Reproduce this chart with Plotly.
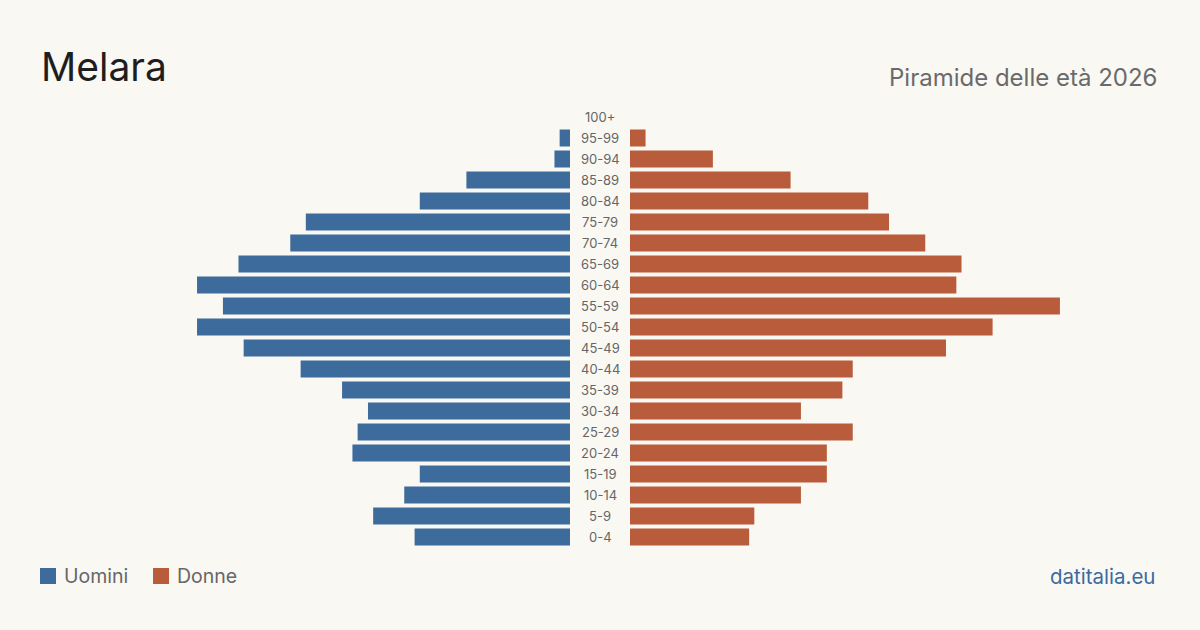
import plotly.graph_objects as go

age_groups = ["0-4", "5-9", "10-14", "15-19", "20-24", "25-29", "30-34", "35-39",
              "40-44", "45-49", "50-54", "55-59", "60-64", "65-69", "70-74",
              "75-79", "80-84", "85-89", "90-94", "95-99", "100+"]
uomini = [30, 38, 32, 29, 42, 41, 39, 44, 52, 63, 72, 67, 72, 64, 54, 51, 29, 20, 3, 2, 0]
donne = [23, 24, 33, 38, 38, 43, 33, 41, 43, 61, 70, 83, 63, 64, 57, 50, 46, 31, 16, 3, 0]

BLUE = "#3d6b9b"
ORANGE = "#b95c3b"
BG = "#faf8f3"
FONT = "Inter"

W, H = 1200, 630
px_per_unit = 5.18
left_a, left_b = 40, 570
right_a, right_b = 630, 1160

fig = go.Figure()
fig.add_trace(go.Bar(y=age_groups, x=uomini, orientation="h",
                     marker=dict(color=BLUE, line=dict(width=0)),
                     name="Uomini", xaxis="x", yaxis="y", showlegend=False,
                     hoverinfo="x+y"))
fig.add_trace(go.Bar(y=age_groups, x=donne, orientation="h",
                     marker=dict(color=ORANGE, line=dict(width=0)),
                     name="Donne", xaxis="x2", yaxis="y", showlegend=False,
                     hoverinfo="x+y"))

y_top, y_bot = 106.5, 547.5

fig.update_layout(
    width=W, height=H,
    margin=dict(l=0, r=0, t=0, b=0),
    paper_bgcolor=BG, plot_bgcolor=BG,
    bargap=0.19,
    font=dict(family=FONT, color="#555"),
    xaxis=dict(domain=[left_a / W, left_b / W],
               range=[(left_b - left_a) / px_per_unit, 0],
               visible=False, fixedrange=True),
    xaxis2=dict(domain=[right_a / W, right_b / W],
                range=[0, (right_b - right_a) / px_per_unit],
                visible=False, fixedrange=True),
    yaxis=dict(domain=[1 - y_bot / H, 1 - y_top / H],
               categoryorder="array", categoryarray=age_groups,
               range=[-0.5, len(age_groups) - 0.5],
               visible=False, fixedrange=True),
)

annotations = []
for g in age_groups:
    annotations.append(dict(x=600 / W, xref="paper", y=g, yref="y", text=g,
                            showarrow=False, xanchor="center", yanchor="middle",
                            font=dict(size=13, color="#666", family=FONT)))

annotations.append(dict(x=39 / W, y=1 - 67 / H, xref="paper", yref="paper",
                        text="Melara", showarrow=False, xanchor="left", yanchor="middle",
                        font=dict(size=39, color="#1e1e1e", family=FONT)))
annotations.append(dict(x=1159 / W, y=1 - 77 / H, xref="paper", yref="paper",
                        text="Piramide delle età 2026", showarrow=False,
                        xanchor="right", yanchor="middle",
                        font=dict(size=24, color="#6a6a6a", family=FONT)))
annotations.append(dict(x=62 / W, y=1 - 576 / H, xref="paper", yref="paper",
                        text="Uomini", showarrow=False, xanchor="left", yanchor="middle",
                        font=dict(size=19.5, color="#666", family=FONT)))
annotations.append(dict(x=175 / W, y=1 - 576 / H, xref="paper", yref="paper",
                        text="Donne", showarrow=False, xanchor="left", yanchor="middle",
                        font=dict(size=19.5, color="#666", family=FONT)))
annotations.append(dict(x=1157 / W, y=1 - 576 / H, xref="paper", yref="paper",
                        text="datitalia.eu", showarrow=False, xanchor="right",
                        yanchor="middle",
                        font=dict(size=20.5, color="#3a6a9f", family=FONT)))

shapes = [
    dict(type="rect", xref="paper", yref="paper", x0=40 / W, x1=56 / W,
         y0=1 - 584 / H, y1=1 - 568 / H, fillcolor=BLUE, line=dict(width=0)),
    dict(type="rect", xref="paper", yref="paper", x0=153 / W, x1=169 / W,
         y0=1 - 584 / H, y1=1 - 568 / H, fillcolor=ORANGE, line=dict(width=0)),
]

fig.update_layout(annotations=annotations, shapes=shapes)
fig.write_html("out.html", config={"displayModeBar": False})
